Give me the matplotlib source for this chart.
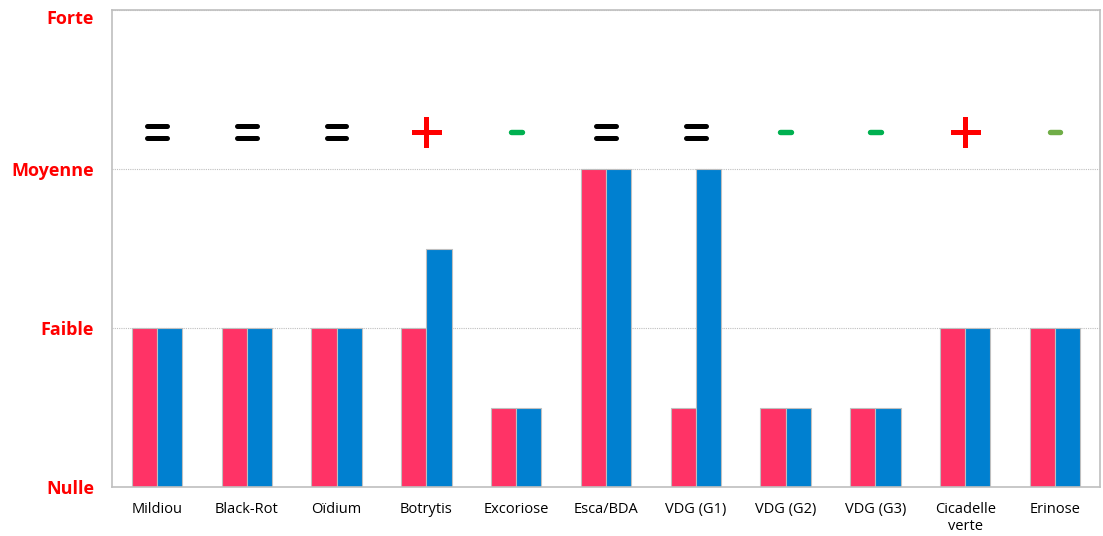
import matplotlib.pyplot as plt
import matplotlib.transforms as mtransforms
import numpy as np

categories = ["Mildiou", "Black-Rot", "Oïdium", "Botrytis", "Excoriose", "Esca/BDA",
              "VDG (G1)", "VDG (G2)", "VDG (G3)", "Cicadelle\nverte", "Erinose"]
serie_avant = [1, 1, 1, 1, 0.5, 2, 0.5, 0.5, 0.5, 1, 1]
serie_apres = [1, 1, 1, 1.5, 0.5, 2, 2, 0.5, 0.5, 1, 1]
tendances = ["=", "=", "=", "+", "-", "=", "=", "-", "-", "+", "-"]
couleurs_tendance = ["black", "black", "black", "#FF0000", "#00B050", "black",
                     "black", "#00B050", "#00B050", "#FF0000", "#70AD47"]
niveaux = [0, 1, 2, 3]
noms_niveaux = ["Nulle", "Faible", "Moyenne", "Forte"]

plt.rcParams['font.family'] = ['Open Sans', 'DejaVu Sans']

fig = plt.figure(figsize=(11.03, 5.36), dpi=100)
ax = fig.add_axes([112 / 1103, 1 - 487 / 536, 988 / 1103, 477 / 536])

x = np.arange(len(categories))
w = 0.28
ax.bar(x - w / 2, serie_avant, w, color="#FF3366", edgecolor="#BFBFBF", linewidth=0.8)
ax.bar(x + w / 2, serie_apres, w, color="#0080D0", edgecolor="#BFBFBF", linewidth=0.8)

# symboles de tendance au-dessus des barres
yc = 2.233
lw = 3.6
for xi, sym, c in zip(x, tendances, couleurs_tendance):
    if sym == "-":
        ax.plot([xi - 0.06, xi + 0.06], [yc, yc], color=c, lw=lw + 0.3, solid_capstyle="round")
    elif sym == "=":
        ax.plot([xi - 0.11, xi + 0.11], [yc + 0.036, yc + 0.036], color=c, lw=lw, solid_capstyle="round")
        ax.plot([xi - 0.11, xi + 0.11], [yc - 0.036, yc - 0.036], color=c, lw=lw, solid_capstyle="round")
    else:
        ax.plot([xi - 0.14, xi + 0.14], [yc, yc], color=c, lw=lw)
        ax.plot([xi, xi], [yc - 0.08, yc + 0.08], color=c, lw=lw)

ax.set_xlim(-0.5, len(categories) - 0.5)
ax.set_ylim(0, 3)
ax.set_xticks(x)
ax.set_xticklabels(categories, fontsize=10.5)
ax.set_yticks(niveaux)
ax.set_yticklabels(noms_niveaux, color="#FF0000", fontweight="bold", fontsize=13)
ax.tick_params(length=0)
ax.tick_params(axis="x", pad=11)
ax.tick_params(axis="y", pad=13)
# "Forte" un peu plus bas que le haut du cadre
lab = ax.get_yticklabels()[-1]
lab.set_transform(lab.get_transform() + mtransforms.ScaledTranslation(0, -7 / 100, fig.dpi_scale_trans))

ax.yaxis.grid(True, linestyle=(0, (1, 1)), color="#BFBFBF", linewidth=0.8)
ax.set_axisbelow(True)
for s in ax.spines.values():
    s.set_color("#BFBFBF")
    s.set_linewidth(1.2)

fig.savefig("out.png", dpi=100)
